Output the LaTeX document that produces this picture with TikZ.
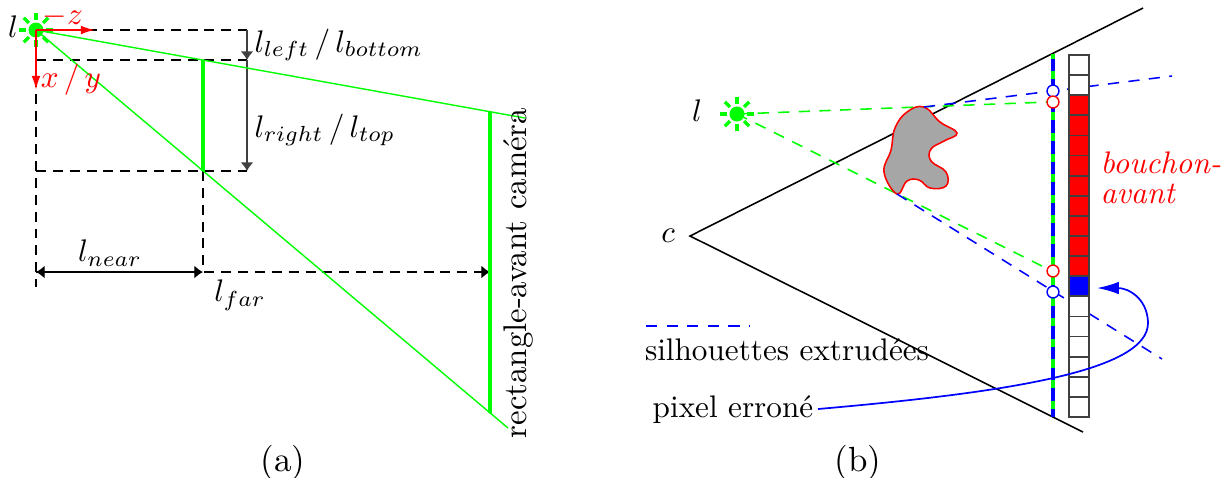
\documentclass[tikz,border=0pt]{standalone}
\usetikzlibrary{arrows.meta}
\definecolor{lgreen}{RGB}{0,255,0}
\definecolor{blobgray}{RGB}{166,166,166}
\begin{document}
\begin{tikzpicture}[x=0.3205pt,y=-0.3205pt,
  dsh/.style={dash pattern=on 3.2pt off 2.2pt, line width=0.45pt},
  bdsh/.style={blue, dash pattern=on 3.6pt off 3pt, line width=0.5pt},
  gdsh/.style={lgreen, dash pattern=on 3.6pt off 3pt, line width=0.5pt},
  dimline/.style={black!75, line width=0.5pt},
  dimtip/.tip={Latex[length=2.8pt,width=4.2pt]},
  redtip/.tip={Latex[length=4.5pt,width=2.8pt]},
  lbl/.style={inner sep=0pt},
  ring/.style={circle, draw, fill=white, minimum size=3.8pt, inner sep=0pt, line width=0.45pt},
  cellline/.style={draw=black!75, line width=0.55pt},
  sun/.pic={
    \fill[lgreen] (0,0) circle[radius=2.4pt];
    \foreach \a in {0,45,...,315}
      \draw[lgreen, line width=1.1pt] (\a:3.2pt) -- (\a:5.5pt);
  }]
\useasboundingbox (0,0) rectangle (1224,477);

% ---------------- (a) light frustum ----------------
\coordinate (la) at (36,30);
\coordinate (nt) at (203,60);
\coordinate (nb) at (203,171);
\coordinate (ft) at (490,112);
\coordinate (fb) at (490,413);
\coordinate (ftx) at (525,118);
\coordinate (fbx) at (508,428);
\coordinate (dimA) at (247,30);
\coordinate (dimB) at (247,60);
\coordinate (dimC) at (247,171);
\coordinate (axT) at (36,60);
\coordinate (axB) at (36,287);
\coordinate (nearL) at (36,272);
\coordinate (nearR) at (203,272);
\coordinate (farR) at (490,272);

% construction lines
\draw[dsh] (la) -- (dimA);
\draw[dsh] (axT) -- (dimB);
\draw[dsh] (36,171) -- (dimC);
\draw[dsh] (axT) -- (axB);
\draw[dsh] (nb) -- (nearR);
\draw[dsh, dimtip-dimtip] (nearL) -- (nearR);
\draw[dsh, -dimtip] (nearL) -- (farR);
\draw[dimline, -dimtip] (dimA) -- (dimB);
\draw[dimline, -dimtip] (dimB) -- (dimC);

% frustum edges and planes
\draw[lgreen, line width=0.45pt] (la) -- (ftx);
\draw[lgreen, line width=0.45pt] (la) -- (fbx);
\draw[lgreen, line width=1pt] (nt) -- (nb);
\draw[lgreen, line width=1pt] (ft) -- (fb);

% light and its axes
\pic at (la) {sun};
\draw[red, line width=0.6pt, -redtip] (la) -- (95,30);
\draw[red, line width=0.6pt, -redtip] (la) -- (36,90);

\node[lbl] (lA) at (13,27) {$l$};
\node[lbl, red] (zA) at (63,17) {$-z$};
\node[lbl, red] (xyA) at (71,80) {$x\,/\,y$};
\node[lbl, anchor=west] (lbA) at (254,45) {$l_{left}\,/\,l_{bottom}$};
\node[lbl, anchor=west] (rtA) at (254,130) {$l_{right}\,/\,l_{top}$};
\node[lbl] (nearA) at (110,253) {$l_{near}$};
\node[lbl] (farA) at (240,295) {$l_{far}$};
\node[lbl, rotate=90, scale=1.05] (camA) at (518,273) {rectangle-avant caméra};
\node[lbl, scale=1.12] (capA) at (283,463) {(a)};

% ---------------- (b) shadow volume ----------------
\coordinate (c) at (690,236);
\coordinate (fu) at (1143,8);
\coordinate (fl) at (1083,432);
\coordinate (pt) at (1053,54);
\coordinate (pb) at (1053,417);
\coordinate (lb) at (737,114);
\coordinate (bt) at (924,107);
\coordinate (bb) at (897,194);
\coordinate (btx) at (1172,76);
\coordinate (bbx) at (1162,359);

% camera frustum
\draw[line width=0.5pt] (fu) -- (c) -- (fl);

% light rays grazing the occluder
\draw[gdsh] (lb) -- (1048,102);
\draw[gdsh] (lb) -- (1048,269);

% occluder
\filldraw[fill=blobgray, draw=red, line width=0.5pt]
  plot[smooth cycle, tension=0.7] coordinates {
    (924,107) (940,122) (957,133) (944,141) (931,149) (931,161)
    (946,172) (946,186) (930,188) (919,180) (907,181) (897,194)
    (884,172) (891,150) (895,128) (907,112)};

% extruded silhouettes
\draw[bdsh] (bt) -- (btx);
\draw[bdsh] (bb) -- (bbx);

% near plane
\draw[lgreen, line width=1pt] (pt) -- (pb);
\draw[blue, line width=1pt, dash pattern=on 4pt off 2.6pt, dash phase=-1.5pt] (pt) -- (pb);

% depth buffer column
\foreach \i in {0,1,12,13,14,15,16,17}
  \draw[cellline, fill=white] (1069,{55+20.11*\i}) rectangle (1089,{55+20.11*(\i+1)});
\foreach \i in {2,...,10}
  \draw[cellline, fill=red] (1069,{55+20.11*\i}) rectangle (1089,{55+20.11*(\i+1)});
\draw[cellline, fill=blue] (1069,{55+20.11*11}) rectangle (1089,{55+20.11*12});

% intersections with the near plane
\node[ring, draw=blue] (o1) at (1053,91) {};
\node[ring, draw=red] (o2) at (1053,102) {};
\node[ring, draw=red] (o3) at (1053,271) {};
\node[ring, draw=blue] (o4) at (1053,292) {};

% light source
\pic at (lb) {sun};

% legend
\coordinate (lg1) at (646,326);
\coordinate (lg2) at (750,326);
\draw[bdsh] (lg1) -- (lg2);
\node[lbl] (leg) at (787,350) {silhouettes extrudées};
\node[lbl] (perr) at (733,410) {pixel erroné};
\coordinate (perrT) at (1097,288);
\draw[blue, line width=0.55pt, -{Latex[length=7pt,width=4pt]}]
  (818,409) .. controls (1000,393) and (1150,372) .. (1148,322)
  .. controls (1147,298) and (1128,288) .. (perrT);

\node[lbl] (lB) at (697,111) {$l$};
\node[lbl] (cB) at (668,236) {$c$};
\node[lbl, red, anchor=base west] (bou1) at (1100,173) {\itshape bouchon-};
\node[lbl, red, anchor=base west] (bou2) at (1100,203) {\itshape avant};
\node[lbl, scale=1.12] (capB) at (858,463) {(b)};
\end{tikzpicture}
\end{document}
